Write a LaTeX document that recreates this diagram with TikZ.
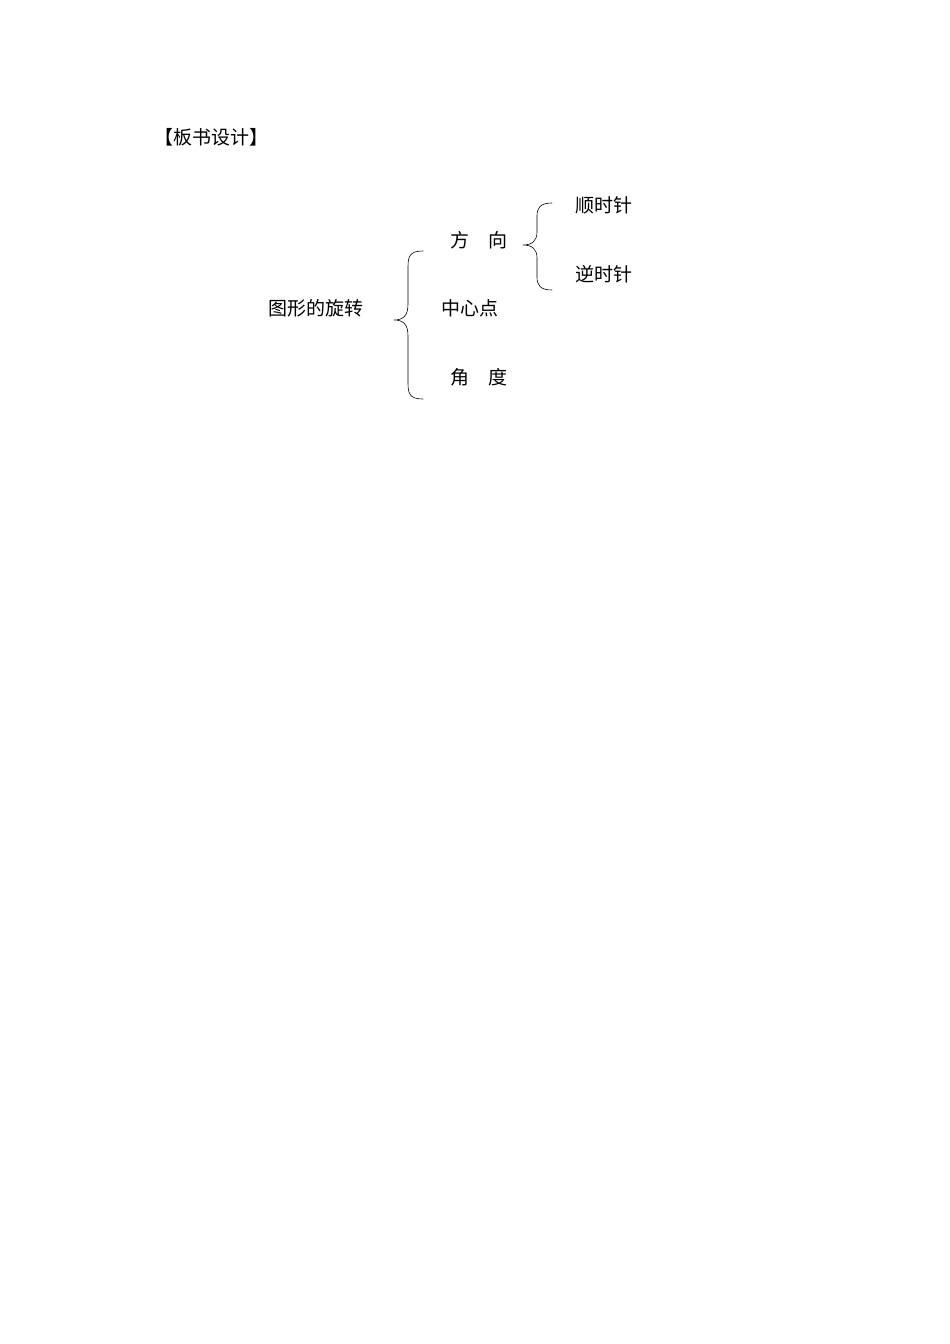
\documentclass[tikz,border=0pt]{standalone}
\usepackage{fontspec}
\newfontfamily\cjk{Noto Sans CJK SC}
\begin{document}
\begin{tikzpicture}[x=1pt, y=-1pt, line join = round, line cap = round, semithick,
  every node/.style={inner sep=0pt, anchor=base west, font=\cjk\fontsize{19}{19}\selectfont}]
				\useasboundingbox (0,0) rectangle (950,1344);
				% title
				\node (title) at (154,144) {【板书设计】};
				% items
				\node (rot)   at (268,315) {图形的旋转};
				\node (dir)   at (450,247) {方　向};
				\node (ctr)   at (441,315) {中心点};
				\node (ang)   at (450,384) {角　度};
				\node (cw)    at (575,212) {顺时针};
				\node (ccw)   at (575,281) {逆时针};
				% big brace
				\pgfmathsetmacro\r{16};
				\draw (423,251) .. controls (410,251) and (408,256) .. (408,251+\r) -- (408,320-\r)
				      .. controls (408,316) and (403,320) .. (394,320) .. controls (403,320) and (408,324) .. (408,320+\r)
				      -- (408,399-\r) .. controls (408,394) and (410,399) .. (423,399);
				% small brace
				\pgfmathsetmacro\s{13};
				\draw (552,203) .. controls (540,203) and (537,208) .. (537,203+\s) -- (537,245-\s)
				      .. controls (537,241) and (532,245) .. (523,245) .. controls (532,245) and (537,249) .. (537,245+\s)
				      -- (537,290-\s) .. controls (537,285) and (540,290) .. (552,290);
\end{tikzpicture}
\end{document}
